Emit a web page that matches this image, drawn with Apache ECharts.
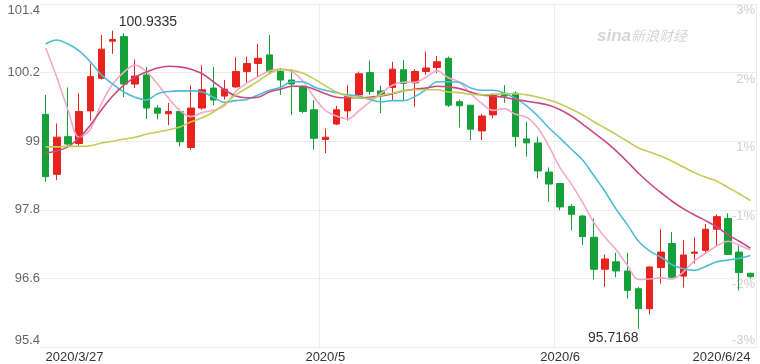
<!DOCTYPE html>
<html>
<head>
<meta charset="utf-8">
<script src="https://cdn.jsdelivr.net/npm/echarts@6/dist/echarts.min.js"></script>
<style>html,body{margin:0;padding:0;background:#fff}#c{width:760px;height:364px}</style>
</head>
<body>
<div id="c"></div>
<script>
const dates = ['2020/3/27','2020/3/30','2020/3/31',
'2020/4/1','2020/4/2','2020/4/3','2020/4/6','2020/4/7','2020/4/8','2020/4/9','2020/4/10','2020/4/13','2020/4/14','2020/4/15','2020/4/16','2020/4/17','2020/4/20','2020/4/21','2020/4/22','2020/4/23','2020/4/24','2020/4/27','2020/4/28','2020/4/29','2020/4/30',
'2020/5/1','2020/5/4','2020/5/5','2020/5/6','2020/5/7','2020/5/8','2020/5/11','2020/5/12','2020/5/13','2020/5/14','2020/5/15','2020/5/18','2020/5/19','2020/5/20','2020/5/21','2020/5/22','2020/5/25','2020/5/26','2020/5/27','2020/5/28','2020/5/29',
'2020/6/1','2020/6/2','2020/6/3','2020/6/4','2020/6/5','2020/6/8','2020/6/9','2020/6/10','2020/6/11','2020/6/12','2020/6/15','2020/6/16','2020/6/17','2020/6/18','2020/6/19','2020/6/22','2020/6/23','2020/6/24'];

const openV  = [99.47,98.42,99.08,98.96,99.53,100.10,100.75,100.83,100.00,100.16,99.58,99.48,99.52,98.89,99.58,99.93,99.79,99.95,100.22,100.36,100.51,100.22,100.07,99.95,99.55,99.03,99.30,99.53,99.81,100.20,99.88,99.94,100.25,100.02,100.22,100.29,100.45,99.69,99.63,99.18,99.46,99.84,99.84,99.04,98.97,98.46,98.26,97.86,97.69,97.32,96.76,96.89,96.73,96.42,96.07,96.79,97.21,96.64,97.04,97.09,97.46,97.65,97.06,96.69];
const closeV = [98.38,99.07,98.95,99.52,100.13,100.61,100.78,100.00,100.14,99.58,99.49,99.52,98.99,99.58,99.90,99.72,99.91,100.22,100.36,100.45,100.22,100.07,100.00,99.52,99.05,99.07,99.55,99.78,100.18,99.87,99.81,100.26,100.01,100.22,100.28,100.39,99.63,99.62,99.21,99.44,99.81,99.79,99.08,98.97,98.48,98.25,97.85,97.72,97.33,96.76,96.94,96.73,96.39,96.07,96.80,97.06,96.62,97.01,97.06,97.46,97.68,97.02,96.70,96.63];
const lowV   = [98.29,98.32,98.91,98.90,99.36,100.08,100.53,99.77,99.93,99.39,99.38,99.28,98.91,98.85,99.55,99.63,99.73,99.93,100.01,100.12,100.19,99.81,99.46,99.49,98.85,98.79,99.28,99.36,99.79,99.81,99.49,99.72,99.72,99.60,100.16,100.19,99.60,99.24,99.02,99.02,99.40,99.67,98.90,98.73,98.35,97.94,97.79,97.44,97.18,96.58,96.45,96.62,96.25,95.7168,95.97,96.51,96.60,96.44,96.86,97.04,97.15,97.01,96.39,96.60];
const highV  = [99.81,99.31,99.94,99.84,100.36,100.86,100.9335,100.89,100.43,100.30,99.63,99.67,99.53,99.98,100.33,100.30,100.07,100.47,100.48,100.70,100.86,100.28,100.26,99.98,99.72,99.22,99.62,99.98,100.22,100.41,99.97,100.39,100.42,100.26,100.57,100.49,100.48,99.73,99.63,99.48,99.84,99.98,99.87,99.34,99.08,98.54,98.27,97.90,97.71,97.65,97.02,97.05,97.05,96.45,96.81,97.46,97.41,97.27,97.32,97.55,97.72,97.74,97.18,96.70];

const ma5  = [100.63,100.12,99.55,99.07,99.21,99.66,100.00,100.21,100.33,100.22,100.00,99.75,99.54,99.43,99.50,99.54,99.62,99.87,100.02,100.13,100.23,100.26,100.22,100.05,99.77,99.54,99.44,99.39,99.53,99.69,99.84,99.98,100.03,100.03,100.12,100.23,100.11,100.03,99.83,99.66,99.54,99.57,99.47,99.42,99.23,98.91,98.53,98.25,97.93,97.58,97.32,97.10,96.83,96.58,96.59,96.61,96.59,96.71,96.91,97.04,97.17,97.25,97.18,97.10];
const ma10 = [100.70,100.77,100.70,100.58,100.39,100.16,100.00,99.86,99.77,99.72,99.83,99.87,99.88,99.88,99.86,99.77,99.68,99.71,99.73,99.81,99.89,99.94,100.04,100.04,99.95,99.89,99.85,99.81,99.79,99.73,99.69,99.71,99.71,99.78,99.90,100.04,100.04,100.03,99.93,99.89,99.89,99.84,99.75,99.62,99.44,99.23,99.05,98.86,98.67,98.40,98.12,97.81,97.54,97.25,97.08,96.97,96.84,96.77,96.74,96.81,96.89,96.92,96.95,97.00];
const ma20 = [98.79,98.83,98.90,99.06,99.28,99.55,99.79,99.98,100.12,100.21,100.28,100.31,100.30,100.26,100.18,100.04,99.90,99.79,99.76,99.77,99.86,99.91,99.96,99.96,99.91,99.83,99.77,99.76,99.76,99.77,99.79,99.83,99.88,99.91,99.93,99.96,99.95,99.92,99.86,99.81,99.79,99.77,99.73,99.70,99.67,99.63,99.55,99.44,99.30,99.15,99.00,98.83,98.64,98.44,98.26,98.10,97.95,97.82,97.71,97.61,97.50,97.36,97.25,97.13];
const ma30 = [98.90,98.90,98.91,98.91,98.92,98.97,99.00,99.04,99.07,99.12,99.16,99.20,99.25,99.34,99.41,99.51,99.65,99.81,99.93,100.05,100.18,100.25,100.24,100.19,100.09,99.97,99.86,99.79,99.76,99.75,99.80,99.84,99.88,99.90,99.90,99.90,99.86,99.85,99.82,99.81,99.82,99.83,99.83,99.81,99.77,99.72,99.65,99.56,99.46,99.34,99.23,99.12,99.00,98.88,98.81,98.74,98.65,98.55,98.45,98.37,98.30,98.19,98.08,97.96];

const xTickIdx  = [0, 25, 46, 63];
const xTickText = ['2020/3/27', '2020/5', '2020/6', '2020/6/24'];
const yMin = 95.4, yMax = 101.4, yStep = 1.2;
const rightLabels = ['-3%', '-2%', '-1%', '1%', '2%', '3%'];

const candles = dates.map((d, i) => [openV[i], closeV[i], lowV[i], highV[i]]);

const chart = echarts.init(document.getElementById('c'), null, {renderer: 'canvas'});
const FONT = 'Arial, "Liberation Sans", sans-serif';
const lineS = (name, data, color) => ({
  name, type: 'line', data, showSymbol: false, smooth: 0.35, z: 3,
  lineStyle: {color, width: 1.6}, itemStyle: {color}, silent: true
});

chart.setOption({
  animation: false,
  backgroundColor: '#fff',
  grid: {left: 40, right: 4, top: 4, bottom: 17},
  xAxis: {
    type: 'category', data: dates, boundaryGap: true,
    axisLine: {show: false}, axisTick: {show: false},
    axisLabel: {
      color: '#333', fontSize: 13, fontFamily: FONT, margin: 4,
      interval: (i) => xTickIdx.indexOf(i) >= 0,
      formatter: (v, i) => xTickText[xTickIdx.indexOf(i)] || '',
      alignMinLabel: 'left', alignMaxLabel: 'right'
    },
    splitLine: {show: true, interval: (i) => i === 25 || i === 46, lineStyle: {color: '#ececec', width: 1}}
  },
  yAxis: [{
    type: 'value', min: yMin, max: yMax, interval: yStep, scale: true,
    axisLine: {show: false}, axisTick: {show: false},
    axisLabel: {
      color: '#666', fontSize: 13, fontFamily: FONT, margin: 0,
      formatter: (v) => String(Math.round(v * 10) / 10),
      verticalAlignMaxLabel: 'top', verticalAlignMinLabel: 'bottom'
    },
    splitLine: {lineStyle: {color: '#ececec', width: 1}}
  }, {
    type: 'value', min: yMin, max: yMax, interval: yStep, position: 'right',
    axisLine: {show: false}, axisTick: {show: false}, splitLine: {show: false},
    axisLabel: {
      inside: true, color: '#cfcfcf', fontSize: 13, fontFamily: FONT, margin: 1,
      verticalAlign: 'top', verticalAlignMinLabel: 'bottom',
      formatter: (v) => rightLabels[Math.round((v - yMin) / yStep)] || ''
    }
  }],
  graphic: [
    {type: 'text', left: 597, top: 28, silent: true, z: 0,
     style: {text: 'sina', fontSize: 17, fontStyle: 'italic', fontWeight: 'bold', fontFamily: FONT, fill: '#d6d6d6'}},
    {type: 'text', left: 631, top: 29, silent: true, z: 0,
     style: {text: '新浪财经', fontSize: 14, fontStyle: 'italic', fontFamily: '"Noto Sans CJK SC", sans-serif', fill: '#d6d6d6'}}
  ],
  series: [
    {
      name: 'K', type: 'candlestick', data: candles, barWidth: 7, z: 2,
      itemStyle: {color: '#e8231d', color0: '#15a03a', borderColor: '#e8231d', borderColor0: '#15a03a', borderWidth: 1},
      markPoint: {
        symbol: 'circle', symbolSize: 0, animation: false,
        data: [
          {type: 'max', valueDim: 'highest',
           label: {show: true, position: 'right', distance: 6, offset: [0, -9], color: '#333', fontSize: 14, fontFamily: FONT,
                   formatter: (p) => Number(p.value).toFixed(4)}},
          {type: 'min', valueDim: 'lowest',
           label: {show: true, position: 'left', distance: 0, offset: [0, 9], color: '#333', fontSize: 14, fontFamily: FONT,
                   formatter: (p) => Number(p.value).toFixed(4)}}
        ]
      }
    },
    lineS('MA5', ma5, '#f3a9c6'),
    lineS('MA10', ma10, '#4fbcd3'),
    lineS('MA20', ma20, '#c74a80'),
    lineS('MA30', ma30, '#c2cb55')
  ]
});
</script>
</body>
</html>
